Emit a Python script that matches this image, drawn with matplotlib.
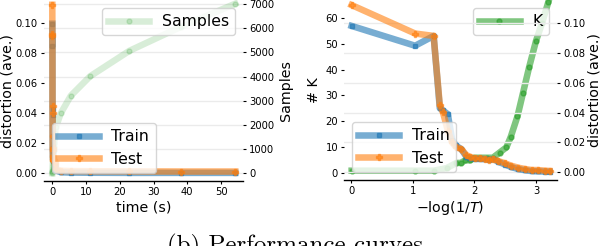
import matplotlib
matplotlib.use('Agg')
import matplotlib.pyplot as plt

# ---- left panel: distortion / samples vs. time ----
time_s = [0.0, 0.02, 0.04, 0.06, 0.08, 0.1, 0.12, 0.15, 0.18, 0.22, 0.27, 0.33,
          0.4, 0.5, 0.6, 0.75, 0.9, 1.1, 2.5, 5.5, 11.2, 22.8, 38.0, 54.2]
train_t = [0.0997, 0.0852, 0.0915, 0.043, 0.039, 0.025, 0.017, 0.015, 0.011, 0.0095,
           0.009, 0.0088, 0.0085, 0.008, 0.0085, 0.007, 0.0055, 0.002, 0.0008, 0.0006,
           0.0005, 0.0004, 0.0004, 0.0004]
test_t = [0.1123, 0.0929, 0.0918, 0.0449, 0.0404, 0.025, 0.0171, 0.0155, 0.0115, 0.0104,
          0.0093, 0.0093, 0.0089, 0.0082, 0.0089, 0.0075, 0.006, 0.003, 0.0018, 0.0016,
          0.0015, 0.0014, 0.0013, 0.0013]
samples = [0, 40, 80, 130, 180, 240, 300, 380, 460, 560, 680, 800, 950, 1100, 1250,
           1450, 1650, 1920, 2480, 3210, 4010, 5060, 6050, 7010]

# ---- right panel: distortion / K vs. -log(1/T) ----
logT = [0.01, 1.04, 1.34, 1.44, 1.49, 1.57, 1.64, 1.70, 1.79, 1.87, 1.93, 2.01, 2.09,
        2.17, 2.23, 2.31, 2.39, 2.50, 2.60, 2.71, 2.82, 2.93, 3.03, 3.14, 3.22]
train_T = [0.0982, 0.0849, 0.0915, 0.043, 0.0415, 0.039, 0.022, 0.018, 0.0155, 0.0105,
           0.0095, 0.009, 0.009, 0.0088, 0.0085, 0.0088, 0.007, 0.0052, 0.0035, 0.0022,
           0.0014, 0.0008, 0.0006, 0.0005, 0.0004]
test_T = [0.1122, 0.0931, 0.0915, 0.0449, 0.0404, 0.028, 0.02, 0.0171, 0.0155, 0.0115,
          0.0104, 0.0093, 0.0093, 0.0089, 0.0082, 0.0089, 0.0075, 0.006, 0.0044, 0.0031,
          0.0022, 0.0015, 0.0015, 0.0011, 0.0009]
logT_K = [0.01, 1.04, 1.34, 1.55, 1.71, 1.78, 1.85, 1.93, 2.0, 2.1, 2.2, 2.3, 2.41,
          2.52, 2.59, 2.70, 2.79, 2.89, 3.0, 3.1, 3.2]
K = [1, 1, 1, 2, 4, 4, 5, 5, 6, 6, 6, 6, 8, 10, 14, 22, 31, 41, 51, 58, 66]

blue, orange, green = 'tab:blue', 'tab:orange', 'tab:green'
lw = 4.7
tick_fs = 7.2
lab_fs = 10.3
leg_fs = 11.3


def style(ax, ax2):
    for a in (ax, ax2):
        for s in ('top', 'left', 'right'):
            a.spines[s].set_visible(False)
        a.tick_params(labelsize=tick_fs, length=2.5, width=0.8, pad=2)
    ax2.spines['bottom'].set_visible(False)
    ax2.grid(axis='y', color='#ebebeb', lw=1)
    ax.spines['bottom'].set_linewidth(1.0)


fig = plt.figure(figsize=(6, 2.46), dpi=100)

# left panel
ax = fig.add_axes([44 / 600, 65 / 246, 199 / 600, 181 / 246])
ax2 = ax.twinx()
ax.set_zorder(ax2.get_zorder() + 1)
ax.patch.set_visible(False)
ax.plot(time_s, train_t, color=blue, marker='s', ms=3.5, lw=lw, alpha=0.6, label='Train')
ax.plot(time_s, test_t, color=orange, marker='P', ms=4.5, lw=lw, alpha=0.6, label='Test')
ax2.plot(time_s, samples, color=green, marker='o', ms=3.5, lw=lw, alpha=0.18, label='Samples')
ax.set_xlim(-2.46, 56.5)
ax.set_ylim(-0.0050, 0.1155)
ax2.set_ylim(-318, 7164)
ax.set_yticks([0, 0.02, 0.04, 0.06, 0.08, 0.10])
ax2.set_yticks(range(0, 7001, 1000))
ax.set_xticks([0, 10, 20, 30, 40, 50])
style(ax, ax2)
ax.set_xlabel('time (s)', fontsize=lab_fs, labelpad=2)
ax.set_ylabel('distortion (ave.)', fontsize=lab_fs, labelpad=1)
ax2.set_ylabel('Samples', fontsize=lab_fs, labelpad=3)
ax.legend(loc='lower left', fontsize=leg_fs, handlelength=2.6)
ax2.legend(loc='upper right', fontsize=leg_fs, handlelength=2.6)

# right panel
bx = fig.add_axes([344.3 / 600, 66 / 246, 212.4 / 600, 180 / 246])
bx2 = bx.twinx()
bx.plot(logT_K, K, color=green, marker='o', ms=3.5, lw=lw, alpha=0.6, label='K')
bx2.plot(logT, train_T, color=blue, marker='s', ms=3.5, lw=lw, alpha=0.6, label='Train')
bx2.plot(logT, test_T, color=orange, marker='P', ms=4.5, lw=lw, alpha=0.6, label='Test')
bx.set_xlim(-0.109, 3.336)
bx.set_ylim(-2.58, 66.8)
bx2.set_ylim(-0.00517, 0.1156)
bx.set_yticks(range(0, 61, 10))
bx2.set_yticks([0, 0.02, 0.04, 0.06, 0.08, 0.10])
bx.set_xticks([0, 1, 2, 3])
style(bx, bx2)
bx.set_xlabel(r'$-\log(1/T)$', fontsize=lab_fs, labelpad=2)
bx.set_ylabel('# K', fontsize=lab_fs, labelpad=3)
bx2.set_ylabel('distortion (ave.)', fontsize=lab_fs, labelpad=2)
bx.legend(loc='upper right', fontsize=leg_fs, handlelength=2.6)
bx2.legend(loc='lower left', fontsize=leg_fs, handlelength=2.6)

fig.text(0.492, -0.028, '(b) Performance curves', family='cmr10', fontsize=18,
         ha='center', va='baseline')

fig.savefig('out.png', dpi=100)
